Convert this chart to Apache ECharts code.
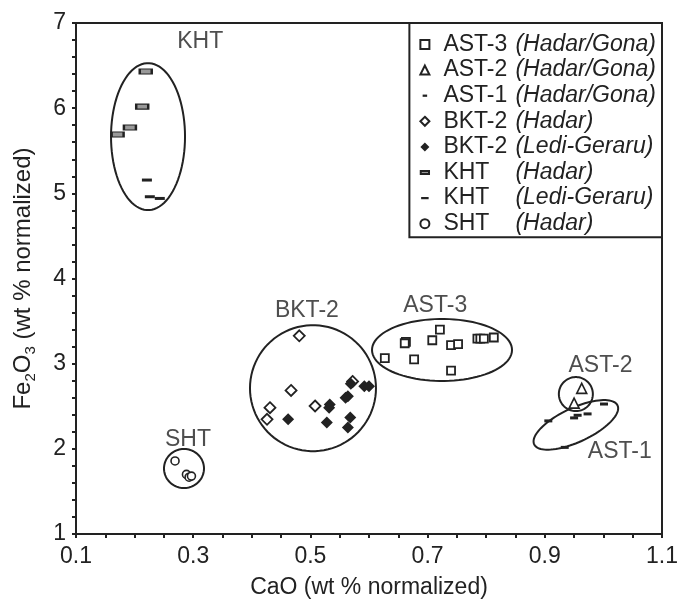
<!DOCTYPE html>
<html>
<head>
<meta charset="utf-8">
<script src="https://cdn.jsdelivr.net/npm/echarts@6/dist/echarts.min.js"></script>
<style>
html,body{margin:0;padding:0;background:#fff;}
#chart{width:681px;height:604px;}
</style>
</head>
<body>
<div id="chart"></div>
<script>
// ---- data (CaO, Fe2O3 wt % normalized) ----
const AST3_X = [0.721, 0.708, 0.663, 0.661, 0.740, 0.752, 0.785, 0.790, 0.796, 0.813, 0.627, 0.677, 0.740];
const AST3_Y = [3.40, 3.275, 3.256, 3.24, 3.217, 3.229, 3.295, 3.295, 3.295, 3.307, 3.065, 3.05, 2.919];
const AST2_X = [0.963, 0.950];
const AST2_Y = [2.71, 2.537];
const AST1_X = [1.001, 0.973, 0.956, 0.950, 0.906, 0.934];
const AST1_Y = [2.526, 2.41, 2.394, 2.363, 2.328, 2.017];
const BKT2H_X = [0.481, 0.467, 0.431, 0.426, 0.508, 0.572];
const BKT2H_Y = [3.327, 2.686, 2.483, 2.347, 2.503, 2.791];
const BKT2L_X = [0.462, 0.533, 0.532, 0.564, 0.560, 0.528, 0.568, 0.564, 0.592, 0.600, 0.569];
const BKT2L_Y = [2.347, 2.522, 2.483, 2.616, 2.600, 2.308, 2.367, 2.25, 2.736, 2.736, 2.763];
const KHTH_X = [0.219, 0.213, 0.192, 0.171];
const KHTH_Y = [6.43, 6.018, 5.773, 5.69];
const KHTL_X = [0.221, 0.226, 0.243];
const KHTL_Y = [5.156, 4.96, 4.94];
const SHT_X = [0.269, 0.2885, 0.293, 0.297];
const SHT_Y = [1.858, 1.70, 1.667, 1.68];

const SERIES_NAMES = ['AST-3 (Hadar/Gona)', 'AST-2 (Hadar/Gona)', 'AST-1 (Hadar/Gona)',
  'BKT-2 (Hadar)', 'BKT-2 (Ledi-Geraru)', 'KHT (Hadar)', 'KHT (Ledi-Geraru)', 'SHT (Hadar)'];

const X_TICK_LABELS = ['0.1', '0.3', '0.5', '0.7', '0.9', '1.1'];
const Y_TICK_LABELS = ['1', '2', '3', '4', '5', '6', '7'];

// group annotations: text and location in data units
const GROUP_LABELS = ['KHT', 'BKT-2', 'AST-3', 'AST-2', 'AST-1', 'SHT'];
const GROUP_LABEL_X = [0.312, 0.494, 0.713, 0.995, 1.028, 0.291];
const GROUP_LABEL_Y = [6.78, 3.62, 3.68, 2.98, 1.97, 2.11];

// enclosing ellipses: centre (data units), semi-axes (px), rotation (deg)
const ELL_CX = [0.2229, 0.5044, 0.7246, 0.953, 0.953, 0.2843];
const ELL_CY = [5.666, 2.712, 3.161, 2.643, 2.281, 1.769];
const ELL_A = [37, 63, 70, 17, 46, 20];
const ELL_B = [73.5, 63, 31, 17, 17, 19.5];
const ELL_ROT = [0, 0, 0, 0, 25, 0];

function zip(xs, ys) { return xs.map((x, i) => [x, ys[i]]); }

const INK = '#222';
const FONT = 'Liberation Sans';

const scatterBase = (name, data, symbol, size, fill, border, bw) => ({
  name, type: 'scatter', data, symbol, symbolSize: size,
  itemStyle: { color: fill, borderColor: border, borderWidth: bw, opacity: 1 },
  emphasis: { disabled: true }, z: 5
});

// legend icons (the invisible M points pad the icon box so shapes stay small)
const ICON_DASH = 'path://M0,0M12,12M3,4.5h6v3h-6z';
const ICON_KHT_H = 'path://M0,0M12,12M0.5,4h11v4h-11z';
const ICON_KHT_L = 'path://M0,0M12,12M1,4.5h10v3h-10z';
const LEGEND_ICONS = ['rect', 'triangle', ICON_DASH, 'diamond', 'diamond', ICON_KHT_H, ICON_KHT_L, 'circle'];

const ellData = ELL_CX.map((cx, i) => [cx, ELL_CY[i], ELL_A[i], ELL_B[i], ELL_ROT[i]]);

const chart = echarts.init(document.getElementById('chart'), null, { renderer: 'canvas' });

chart.setOption({
  animation: false,
  backgroundColor: '#fff',
  textStyle: { fontFamily: FONT },
  grid: { left: 76, right: 19, top: 23, bottom: 66, show: true, borderColor: INK, borderWidth: 2, backgroundColor: 'transparent' },
  xAxis: {
    type: 'value', min: 0.1, max: 1.1, interval: 0.05,
    splitLine: { show: false },
    axisLine: { show: true, lineStyle: { color: INK, width: 2 } },
    axisTick: { show: true, length: 4, lineStyle: { color: INK, width: 2 } },
    axisLabel: {
      color: INK, fontSize: 23, fontFamily: FONT, margin: 11,
      formatter: function (v) {
        const k = Math.round((v - 0.1) / 0.05);
        return k % 4 === 0 ? X_TICK_LABELS[k / 4] : '';
      }
    },
    name: 'CaO (wt % normalized)', nameLocation: 'middle', nameGap: 42,
    nameTextStyle: { color: INK, fontSize: 23, fontFamily: FONT }
  },
  yAxis: {
    type: 'value', min: 1, max: 7, interval: 0.2,
    splitLine: { show: false },
    axisLine: { show: true, lineStyle: { color: INK, width: 2 } },
    axisTick: { show: true, length: 4, lineStyle: { color: INK, width: 2 } },
    axisLabel: {
      color: INK, fontSize: 23, fontFamily: FONT, margin: 10,
      formatter: function (v) {
        const k = Math.round((v - 1) / 0.2);
        return k % 5 === 0 ? Y_TICK_LABELS[k / 5] : '';
      }
    },
    name: '{a|Fe}{s|2}{a|O}{s|3}{a| (wt % normalized)}', nameLocation: 'middle', nameGap: 38,
    nameTextStyle: {
      color: INK, fontFamily: FONT,
      rich: {
        a: { fontSize: 24, color: INK, fontFamily: FONT, lineHeight: 30, verticalAlign: 'middle' },
        s: { fontSize: 15, color: INK, fontFamily: FONT, lineHeight: 30, verticalAlign: 'bottom' }
      }
    }
  },
  legend: {
    data: SERIES_NAMES.map((n, i) => ({ name: n, icon: LEGEND_ICONS[i] })),
    orient: 'vertical', top: 23, right: 19,
    backgroundColor: '#fff', borderColor: INK, borderWidth: 2, borderRadius: 0,
    padding: [10, 6, 2, 10], itemGap: 2.6, itemWidth: 9, itemHeight: 9,
    selectedMode: false,
    formatter: function (name) {
      const i = name.indexOf(' (');
      return '{p|}{n|' + name.slice(0, i) + '}{i|' + name.slice(i + 1) + '}';
    },
    textStyle: {
      color: INK, fontSize: 23, fontFamily: FONT, lineHeight: 22,
      rich: {
        p: { width: 9, lineHeight: 22 },
        n: { fontSize: 23, color: INK, fontFamily: FONT, width: 72, lineHeight: 22 },
        i: { fontSize: 23, color: INK, fontFamily: FONT, fontStyle: 'italic', lineHeight: 22 }
      }
    }
  },
  series: [
    scatterBase(SERIES_NAMES[0], zip(AST3_X, AST3_Y), 'rect', 8, '#fff', INK, 1.8),
    scatterBase(SERIES_NAMES[1], zip(AST2_X, AST2_Y), 'triangle', 10, '#fff', INK, 1.6),
    scatterBase(SERIES_NAMES[2], zip(AST1_X, AST1_Y), 'rect', [8, 3], INK, INK, 0),
    scatterBase(SERIES_NAMES[3], zip(BKT2H_X, BKT2H_Y), 'diamond', 11, '#fff', INK, 1.8),
    scatterBase(SERIES_NAMES[4], zip(BKT2L_X, BKT2L_Y), 'diamond', 12, INK, INK, 0),
    scatterBase(SERIES_NAMES[5], zip(KHTH_X, KHTH_Y), 'rect', [12, 5], '#999', INK, 1.6),
    scatterBase(SERIES_NAMES[6], zip(KHTL_X, KHTL_Y), 'rect', [10, 3], INK, INK, 0),
    scatterBase(SERIES_NAMES[7], zip(SHT_X, SHT_Y), 'circle', 8, '#fff', INK, 1.6),
    {
      name: 'enclosures', type: 'custom', data: ellData, silent: true, z: 3,
      encode: { x: 0, y: 1 },
      renderItem: function (params, api) {
        const c = api.coord([api.value(0), api.value(1)]);
        const a = api.value(2), b = api.value(3), rot = api.value(4) * Math.PI / 180;
        const pts = [];
        for (let k = 0; k < 90; k++) {
          const t = k / 90 * Math.PI * 2;
          const ex = a * Math.cos(t), ey = b * Math.sin(t);
          pts.push([c[0] + ex * Math.cos(rot) + ey * Math.sin(rot), c[1] - ex * Math.sin(rot) + ey * Math.cos(rot)]);
        }
        return { type: 'polygon', shape: { points: pts }, style: { fill: 'none', stroke: INK, lineWidth: 2 } };
      }
    },
    {
      name: 'group labels', type: 'scatter', symbolSize: 0, silent: true, z: 6,
      data: GROUP_LABELS.map((t, i) => ({ name: t, value: [GROUP_LABEL_X[i], GROUP_LABEL_Y[i]] })),
      label: { show: true, position: 'inside', formatter: '{b}', color: INK, fontSize: 23, fontFamily: FONT }
    }
  ]
});
</script>
</body>
</html>
